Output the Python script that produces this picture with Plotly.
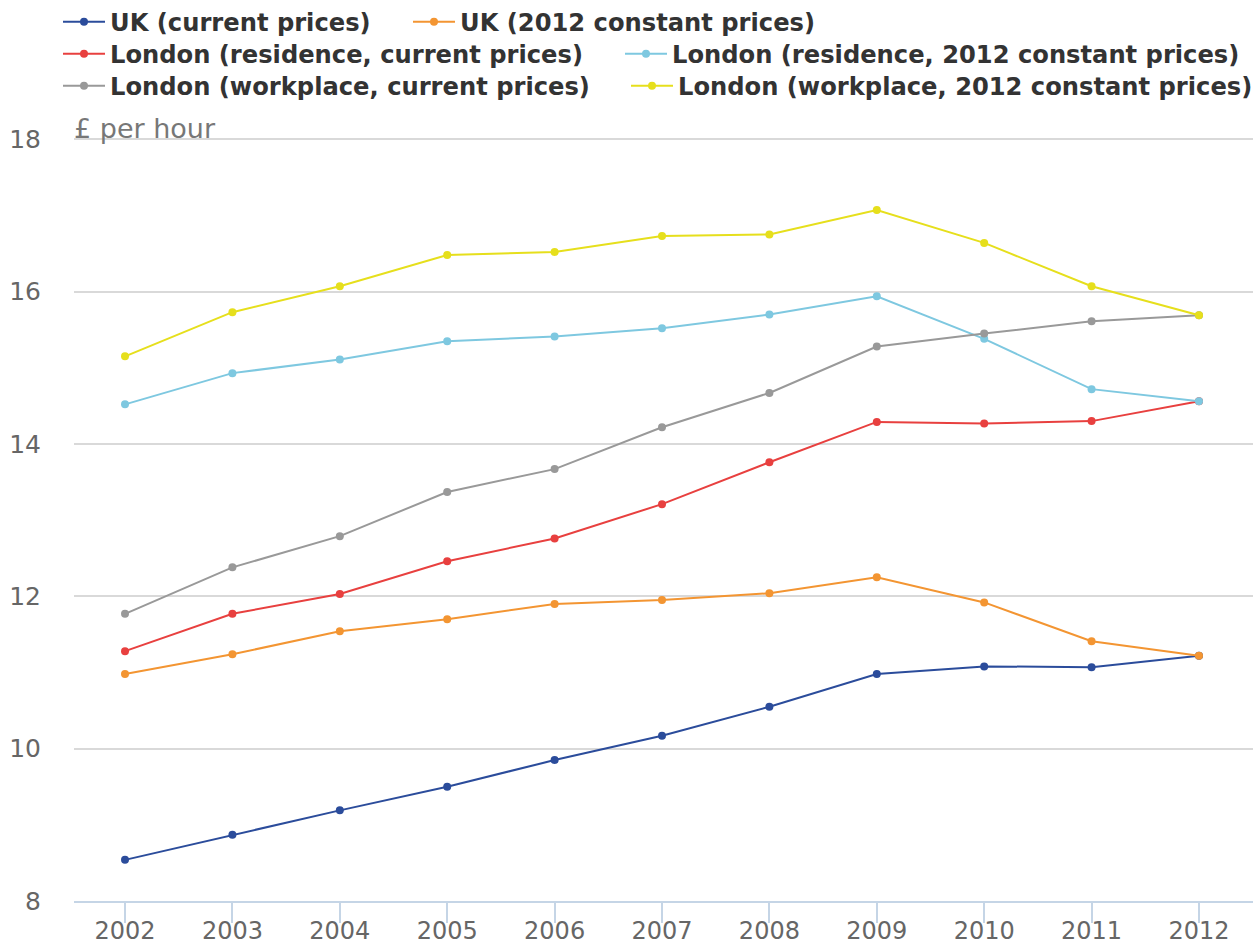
import plotly.graph_objects as go

years = ["2002", "2003", "2004", "2005", "2006", "2007", "2008", "2009", "2010", "2011", "2012"]

uk_current = [8.54, 8.87, 9.19, 9.50, 9.85, 10.17, 10.55, 10.98, 11.08, 11.07, 11.22]
uk_constant = [10.98, 11.24, 11.54, 11.70, 11.90, 11.95, 12.04, 12.25, 11.92, 11.41, 11.22]
ldn_res_current = [11.28, 11.77, 12.03, 12.46, 12.76, 13.21, 13.76, 14.29, 14.27, 14.30, 14.56]
ldn_res_constant = [14.52, 14.93, 15.11, 15.35, 15.41, 15.52, 15.70, 15.94, 15.38, 14.72, 14.56]
ldn_wp_current = [11.77, 12.38, 12.79, 13.37, 13.67, 14.22, 14.67, 15.28, 15.45, 15.61, 15.69]
ldn_wp_constant = [15.15, 15.73, 16.07, 16.48, 16.52, 16.73, 16.75, 17.07, 16.64, 16.07, 15.69]

# (name, values, colour, legend id)
series = [
    ("UK (current prices)", uk_current, "#2b4c9b", "legend"),
    ("UK (2012 constant prices)", uk_constant, "#f39532", "legend2"),
    ("London (residence, current prices)", ldn_res_current, "#e8403f", "legend3"),
    ("London (residence, 2012 constant prices)", ldn_res_constant, "#7ec8e0", "legend4"),
    ("London (workplace, current prices)", ldn_wp_current, "#999999", "legend5"),
    ("London (workplace, 2012 constant prices)", ldn_wp_constant, "#e6df1c", "legend6"),
]

fig = go.Figure()
for name, vals, color, leg in series:
    fig.add_trace(go.Scatter(
        x=years, y=vals, name=name, mode="lines+markers",
        line=dict(color=color, width=2),
        marker=dict(color=color, size=8),
        legend=leg, showlegend=True,
    ))


def legend_item(x_px, y_px):
    # one legend per entry so the rows flow like the original
    return dict(
        orientation="h", xref="container", yref="container",
        x=x_px / 1260, y=1 - y_px / 944, xanchor="left", yanchor="middle",
        font=dict(family="DejaVu Sans", size=24.2, color="#333333", weight="bold"),
        itemwidth=42, bgcolor="rgba(0,0,0,0)",
    )


fig.update_layout(
    width=1260, height=944,
    showlegend=True,
    paper_bgcolor="white", plot_bgcolor="white",
    margin=dict(l=74, r=7, t=137, b=43),
    font=dict(family="DejaVu Sans", size=24, color="#666666"),
    legend=legend_item(58, 22),
    legend2=legend_item(408, 22),
    legend3=legend_item(58, 54),
    legend4=legend_item(620, 54),
    legend5=legend_item(58, 86),
    legend6=legend_item(626, 86),
    xaxis=dict(
        type="category", range=[-0.475, 10.503], automargin=False,
        showgrid=False, showline=True, linecolor="#c5d5e6", linewidth=2,
        ticks="outside", ticklen=20, tickwidth=2, tickcolor="#c5d5e6",
        ticklabelstandoff=-13,
        tickfont=dict(size=24, color="#666666"),
    ),
    yaxis=dict(
        range=[8, 18.03], tickvals=[8, 10, 12, 14, 16, 18], automargin=False,
        showgrid=True, gridcolor="#d9d9d9", gridwidth=2,
        zeroline=False, showline=False,
        ticklabelstandoff=32,
        tickfont=dict(size=25, color="#666666"),
    ),
)

fig.add_annotation(
    text="£ per hour", xref="paper", yref="paper", x=0, y=1.0,
    xanchor="left", yanchor="middle", showarrow=False,
    font=dict(size=27, color="#777777"), yshift=9, xshift=-2,
)

fig.write_html(
    "out.html",
    config={"displayModeBar": False},
    post_script="document.body.style.margin='0';document.body.style.overflow='hidden';",
)
